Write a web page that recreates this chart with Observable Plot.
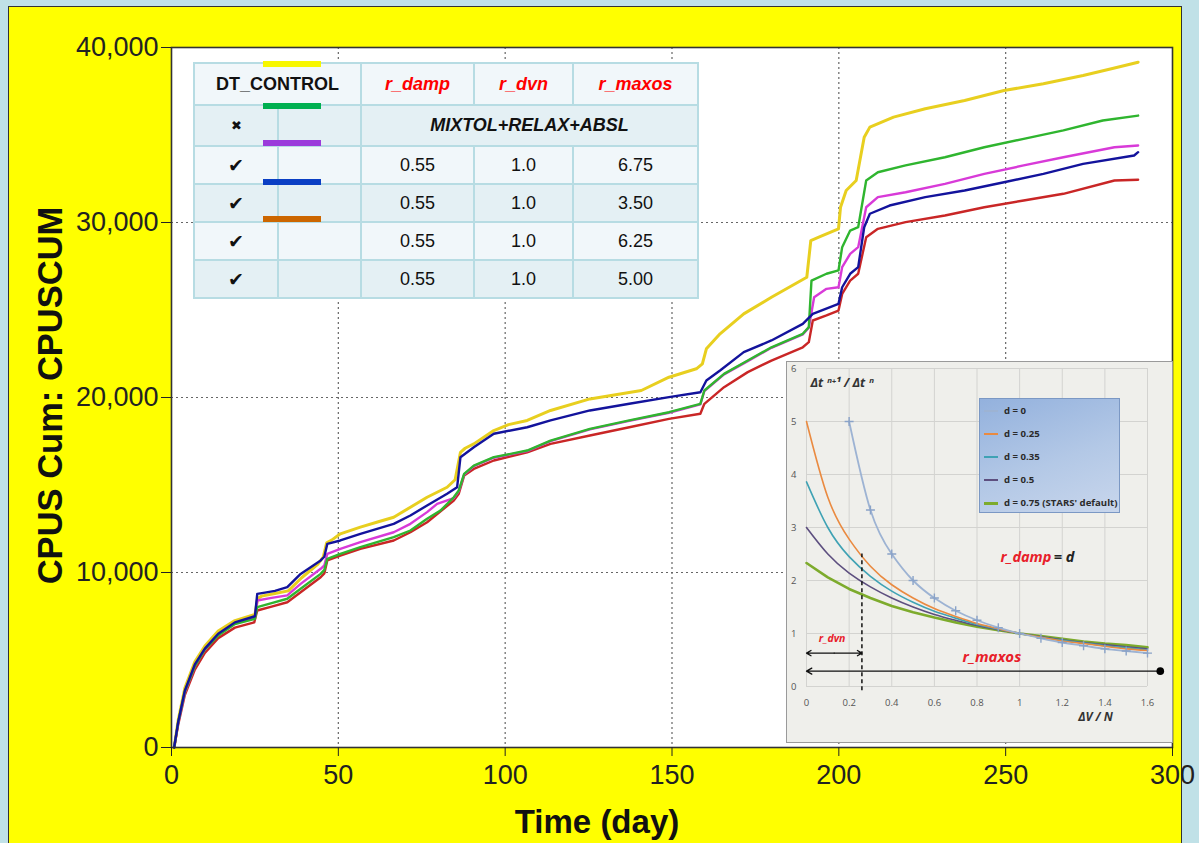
<!DOCTYPE html>
<html><head><meta charset="utf-8">
<script src="https://cdn.jsdelivr.net/npm/d3@7"></script>
<script src="https://cdn.jsdelivr.net/npm/@observablehq/plot@0.6"></script>
<style>
html,body{margin:0;padding:0}
body{width:1199px;height:843px;background:#c0e1e7;overflow:hidden;position:relative;font-family:"Liberation Sans",Arial,sans-serif}
#frame{position:absolute;left:8px;top:6px;width:1174px;height:850px;background:#ffff00;border:1.5px solid #333;box-sizing:border-box}
#main{position:absolute;left:0;top:0}
#tbl{position:absolute;left:193px;top:62px;width:504px;border-collapse:collapse;table-layout:fixed;font-size:18px;color:#111}
#tbl td{border:2.5px solid #b7dce3;text-align:center;vertical-align:middle;padding:0}
#tbl tr.light td{background:#f1f7fa}
#tbl tr.dark td{background:#e4f0f4}
#tbl td.hdr{font-weight:bold}
#tbl td.par{color:#ff0000;font-weight:bold;font-style:italic}
#tbl td.bi{font-weight:bold;font-style:italic}
.bar{position:absolute;height:6px}
#insetBox{position:absolute;left:786px;top:361px;border:1px solid #9a9a9a;background:#efefeb}
#ilegend{position:absolute;left:979px;top:398px;width:141px;height:115px;box-sizing:border-box;border:1px solid #7b98c4;background:linear-gradient(160deg,#93b1dd 0%,#b3c8e6 55%,#c8d6ec 100%);font-family:"Open Sans","Liberation Sans",sans-serif;font-size:9.6px;font-weight:bold;color:#2b2b2b}
#ilegend .it{position:absolute;left:4px;height:12px;line-height:12px;white-space:nowrap}
#ilegend .sw{display:inline-block;width:14px;height:2px;vertical-align:middle;margin-right:6px}
</style></head>
<body>
<div id="frame"></div>
<div id="main"></div>
<div id="insetBox"></div>
<div id="ilegend"></div>
<script>
// ---------- main chart data (CPU seconds cumulative vs time) ----------
const dayYellow = [0.8,2,4,7,10,14,19,25,25.8,27,31,35,39,44,45.5,46.5,48,50.6,56.6,62,66.6,71.6,76.6,82.6,85,86.6,88,90.6,96.6,101,106.6,113.6,125.4,140.8,149.1,157.3,159.1,160.3,164.4,171.5,179.8,190.4,191.6,194,199.9,200.5,202.2,205.2,207.6,209.3,216.4,225.9,237.7,249.5,261.3,273.2,282,289.7];
const cpuYellow = [0,1550,3400,4900,5800,6650,7250,7600,8500,8650,8800,8950,9700,10500,10900,11700,11850,12210,12590,12900,13160,13730,14300,14870,15300,16870,17100,17350,18110,18450,18690,19260,19920,20400,21160,21640,21920,22780,23640,24780,25730,26870,28970,29160,29640,30870,31830,32400,34870,35450,36020,36500,36970,37540,37930,38400,38800,39160];

const dayBlue = [0.8,2,4,7,10,14,19,25,25.7,28,31,34.7,38.7,44.7,45.8,46.7,50.6,56.6,66.6,71.6,76.6,82.6,85.6,86.6,90.6,96.6,106.6,113.6,125.4,137.2,149.1,158.5,160.3,164.4,171.5,179.8,189.2,192.2,199.9,201,203.4,205.8,207.6,209.3,215.2,225.9,237.7,249.5,261.3,273.2,288.5,289.7];
const cpuBlue = [0,1450,3250,4750,5650,6500,7150,7500,8780,8850,8950,9160,9920,10690,10900,11640,11830,12210,12780,13260,13830,14500,14870,16590,17160,17930,18300,18690,19260,19640,20020,20300,20970,21540,22590,23260,24210,24780,25350,26300,27070,27450,29730,30500,30970,31450,31830,32300,32780,33350,33830,34020];

const dayMagenta = [0.8,2,4,7,10,14,19,25,25.7,30,34.7,38.7,44.7,45.8,46.7,50.6,56.6,66.6,71.6,76.6,79.6,84.6,86.1,87.7,90.6,96.6,106.6,113.6,125.4,137.2,149.1,158.5,159.7,165.6,172.7,179.8,189.2,191,192.6,196.3,199.9,201,203.4,205.8,208.2,211.7,220,231.8,243.6,255.4,267.3,282.6,289.7];
const cpuMagenta = [0,1400,3150,4650,5600,6450,7100,7400,8400,8550,8690,9350,10210,10400,11070,11350,11730,12300,12780,13450,13920,14250,14650,15600,16080,16560,16940,17510,18180,18660,19130,19610,20370,21320,22080,22840,23610,23990,25730,26210,26300,27450,28210,28590,30870,31450,31730,32210,32780,33260,33730,34300,34400];

const dayGreen = [0.8,2,4,7,10,14,19,25,25.7,30,34.7,38.7,44.7,45.8,46.7,50.6,56.6,66.6,71.6,76.6,80.6,84.6,86.1,87.7,90.6,96.6,106.6,113.6,125.4,137.2,149.1,158.5,159.7,165.6,172.7,179.8,189.2,191,191.8,196.3,199.9,201,203.4,205.8,208.2,211.7,220,231.8,243.6,255.4,267.3,279.1,289.7];
const cpuGreen = [0,1450,3200,4650,5600,6400,7050,7350,8020,8250,8500,9070,9920,10150,10780,11070,11450,12020,12400,13070,13540,14300,14690,15640,16110,16590,16970,17540,18210,18690,19160,19640,20400,21350,22110,22870,23640,24020,26680,27070,27260,28590,29540,29730,32400,32870,33260,33730,34300,34780,35260,35830,36110];

const dayRed = [0.8,2,4,7,10,14,19,24.8,25.7,30,34.7,38.7,44.7,45.8,46.7,50.6,56.6,66.6,71.6,76.6,84.6,86.1,87.7,90.6,96.6,106.6,113.6,125.4,137.2,149.1,158.5,159.7,165.6,172.7,179.8,189.2,191,192.2,196.3,199.9,201,203.4,205.8,208.2,211.7,220,231.8,243.6,255.4,267.3,282.6,289.7];
const cpuRed = [0,1300,3000,4450,5400,6250,6850,7150,7830,8050,8300,8870,9730,9950,10690,10970,11350,11830,12300,12870,14110,14500,15540,15920,16400,16870,17350,17830,18300,18780,19070,19640,20590,21450,22110,22870,23160,24400,24690,24970,25920,26680,27070,29160,29640,30020,30400,30870,31260,31640,32400,32440];

const xTicks = [0,50,100,150,200,250,300];
const yTicks = [0,10000,20000,30000,40000];
const xLabel = "Time (day)";
const yLabel = "CPUS Cum: CPUSCUM";

// ---------- table data ----------
const tableHeader = ["DT_CONTROL","r_damp","r_dvn","r_maxos"];
const baseRowFlag = "✖";
const baseRowText = "MIXTOL+RELAX+ABSL";
const rowFlags = ["✔","✔","✔","✔"];
const rDamp = ["0.55","0.55","0.55","0.55"];
const rDvn = ["1.0","1.0","1.0","1.0"];
const rMaxos = ["6.75","3.50","6.25","5.00"];
const legendBarColors = ["#f7f700","#00b050","#9b3bdb","#0a3fc4","#cc6600"];

// ---------- inset data (time-step ratio vs dV/N) ----------
const insetX = [0,0.1,0.2,0.3,0.4,0.5,0.6,0.7,0.8,0.9,1.0,1.1,1.2,1.3,1.4,1.5,1.6];
const ratioD025 = [5.0,3.57,2.78,2.27,1.92,1.67,1.47,1.32,1.19,1.09,1.0,0.93,0.86,0.81,0.76,0.71,0.68];
const ratioD035 = [3.86,3.0,2.45,2.08,1.8,1.59,1.42,1.29,1.17,1.08,1.0,0.93,0.87,0.82,0.77,0.73,0.69];
const ratioD05 = [3.0,2.5,2.14,1.88,1.67,1.5,1.36,1.25,1.15,1.07,1.0,0.94,0.88,0.83,0.79,0.75,0.71];
const ratioD075 = [2.33,2.06,1.84,1.67,1.52,1.4,1.3,1.21,1.13,1.06,1.0,0.95,0.9,0.85,0.81,0.78,0.74];
const insetXd0 = [0.2,0.3,0.4,0.5,0.6,0.7,0.8,0.9,1.0,1.1,1.2,1.3,1.4,1.5,1.6];
const ratioD0 = [5.0,3.33,2.5,2.0,1.67,1.43,1.25,1.11,1.0,0.91,0.83,0.77,0.71,0.67,0.63];
const insetXTicks = [0,0.2,0.4,0.6,0.8,1,1.2,1.4,1.6];
const insetYTicks = [0,1,2,3,4,5,6];
const insetLegend = ["d = 0","d = 0.25","d = 0.35","d = 0.5","d = 0.75 (STARS' default)"];
const rDvnValue = 0.26;
const rMaxosEnd = 1.66;

// ---------- build main chart ----------
const toRows = (days, vals) => days.map((d, i) => ({day: d, value: vals[i]}));
const seriesDefs = [
  {rows: toRows(dayYellow, cpuYellow), color: "#e8cf1f", w: 3},
  {rows: toRows(dayRed, cpuRed), color: "#c92626", w: 2.4},
  {rows: toRows(dayMagenta, cpuMagenta), color: "#d83ad8", w: 2.4},
  {rows: toRows(dayGreen, cpuGreen), color: "#2fb52f", w: 2.4},
  {rows: toRows(dayBlue, cpuBlue), color: "#13139c", w: 2.4}
];

const mainPlot = Plot.plot({
  width: 1199, height: 843,
  marginLeft: 171, marginRight: 27, marginTop: 47, marginBottom: 96,
  style: {background: "transparent", fontFamily: "'Liberation Sans', Arial, sans-serif", fontSize: "27px", color: "#222", overflow: "visible"},
  x: {domain: [0, 300]},
  y: {domain: [0, 40000]},
  marks: [
    Plot.frame({fill: "white", stroke: null}),
    Plot.gridX(xTicks.slice(1, -1), {stroke: "#666", strokeOpacity: 1, strokeDasharray: "2,3", strokeWidth: 1.2}),
    Plot.gridY(yTicks.slice(1, -1), {stroke: "#666", strokeOpacity: 1, strokeDasharray: "2,3", strokeWidth: 1.2}),
    ...seriesDefs.map(s => Plot.line(s.rows, {x: "day", y: "value", stroke: s.color, strokeWidth: s.w, curve: "linear"})),
    Plot.frame({stroke: "#333", strokeWidth: 1.6}),
    Plot.axisX(xTicks, {tickSize: 9, tickPadding: 8, label: null, tickFormat: d => String(d)}),
    Plot.axisY(yTicks, {tickSize: 10, tickPadding: 3, label: null, tickFormat: d3.format(",")}),
    Plot.text([xLabel], {text: d => d, frameAnchor: "bottom", dx: -75, dy: 75, lineAnchor: "middle", textAnchor: "middle", fontSize: 33, fontWeight: "bold", fill: "#111"}),
    Plot.text([yLabel], {text: d => d, frameAnchor: "left", dx: -121, dy: -2, rotate: -90, lineAnchor: "middle", textAnchor: "middle", fontSize: 34.5, fontWeight: "bold", fill: "#111"})
  ]
});
document.getElementById("main").appendChild(mainPlot);

// ---------- table ----------
const tbl = document.createElement("table");
tbl.id = "tbl";
let h = `<colgroup><col style="width:84px"><col style="width:83px"><col style="width:113px"><col style="width:99px"><col style="width:125px"></colgroup>`;
h += `<tr class="light" style="height:42px"><td colspan="2" class="hdr">${tableHeader[0]}</td>` +
     tableHeader.slice(1).map(t => `<td class="par">${t}</td>`).join("") + `</tr>`;
h += `<tr class="dark" style="height:41px"><td style="font-size:13px">${baseRowFlag}</td><td></td><td colspan="3" class="bi">${baseRowText}</td></tr>`;
rowFlags.forEach((f, i) => {
  h += `<tr class="${i % 2 === 0 ? "light" : "dark"}" style="height:38px"><td style="font-size:19px;line-height:1">${f}</td><td></td><td>${rDamp[i]}</td><td>${rDvn[i]}</td><td>${rMaxos[i]}</td></tr>`;
});
tbl.innerHTML = h;
document.body.appendChild(tbl);
const barTops = [61, 103, 140, 179, 216];
legendBarColors.forEach((c, i) => {
  const b = document.createElement("div");
  b.className = "bar";
  b.style.cssText = `left:263px;width:58px;top:${barTops[i]}px;background:${c}`;
  document.body.appendChild(b);
});

// ---------- inset ----------
const insetRows = (xs, ys) => xs.map((x, i) => ({x, y: ys[i]}));
const insetColors = ["#9db3d3", "#ea8a40", "#3fa2b4", "#5d4f7f", "#7dab2c"];
const insetPlot = Plot.plot({
  width: 385, height: 380,
  marginLeft: 19, marginRight: 25, marginTop: 6, marginBottom: 56,
  style: {background: "transparent", fontFamily: "'Open Sans', 'Liberation Sans', sans-serif", fontSize: "9.5px", color: "#555", overflow: "visible"},
  x: {domain: [0, 1.6]},
  y: {domain: [0, 6]},
  marks: [
    Plot.gridX(insetXTicks, {stroke: "#d3d3d0", strokeOpacity: 1, strokeWidth: 1}),
    Plot.gridY(insetYTicks, {stroke: "#d3d3d0", strokeOpacity: 1, strokeWidth: 1}),
    Plot.axisX(insetXTicks, {tickSize: 0, tickPadding: 13, label: null, tickFormat: d => String(d)}),
    Plot.axisY(insetYTicks, {tickSize: 0, tickPadding: 10, label: null, tickFormat: d => String(d)}),
    Plot.line(insetRows(insetX, ratioD075), {x: "x", y: "y", stroke: insetColors[4], strokeWidth: 2.6}),
    Plot.line(insetRows(insetX, ratioD05), {x: "x", y: "y", stroke: insetColors[3], strokeWidth: 1.6, curve: "natural"}),
    Plot.line(insetRows(insetX, ratioD035), {x: "x", y: "y", stroke: insetColors[2], strokeWidth: 1.6, curve: "natural"}),
    Plot.line(insetRows(insetX, ratioD025), {x: "x", y: "y", stroke: insetColors[1], strokeWidth: 1.6, curve: "natural"}),
    Plot.line(insetRows(insetXd0, ratioD0), {x: "x", y: "y", stroke: insetColors[0], strokeWidth: 1.8, curve: "natural"}),
    Plot.dot(insetRows(insetXd0, ratioD0), {x: "x", y: "y", symbol: "plus", r: 3, stroke: "#8aa3c8", strokeWidth: 1.4}),
    Plot.ruleX([rDvnValue], {y1: -0.08, y2: 2.5, stroke: "#111", strokeWidth: 1.5, strokeDasharray: "4,3"}),
    Plot.arrow([0], {x1: rDvnValue / 2, x2: 0, y1: 0.63, y2: 0.63, stroke: "#111", strokeWidth: 1.3, headLength: 6}),
    Plot.arrow([0], {x1: rDvnValue / 2, x2: rDvnValue, y1: 0.63, y2: 0.63, stroke: "#111", strokeWidth: 1.3, headLength: 6}),
    Plot.arrow([0], {x1: rMaxosEnd, x2: 0, y1: 0.29, y2: 0.29, stroke: "#111", strokeWidth: 1.3, headLength: 7}),
    Plot.dot([0], {x: rMaxosEnd, y: 0.29, r: 3.8, fill: "#000"}),
    Plot.text(["r_dvn"], {text: d => d, x: 0.12, y: 0.91, fill: "#e8202a", fontSize: 10.5, fontWeight: "bold", fontStyle: "italic"}),
    Plot.text(["r_maxos"], {text: d => d, x: 0.87, y: 0.55, fill: "#e8202a", fontSize: 15, fontWeight: "bold", fontStyle: "italic"}),
    Plot.text(["r_damp"], {text: d => d, x: 1.149, y: 2.44, textAnchor: "end", fill: "#e8202a", fontSize: 14.5, fontWeight: "bold", fontStyle: "italic"}),
    Plot.text(["= d"], {text: d => d, x: 1.16, y: 2.44, textAnchor: "start", fill: "#222", fontSize: 14.5, fontWeight: "bold", fontStyle: "italic"}),
    Plot.text(["Δt ⁿ⁺¹ / Δt ⁿ"], {text: d => d, frameAnchor: "top-left", dx: 4, dy: 10, fill: "#333", fontSize: 12.5, fontWeight: "bold", fontStyle: "italic"}),
    Plot.text(["ΔV / N"], {text: d => d, frameAnchor: "bottom-right", dx: -52, dy: 34, textAnchor: "middle", fill: "#333", fontSize: 12, fontWeight: "bold", fontStyle: "italic"})
  ]
});
document.getElementById("insetBox").appendChild(insetPlot);

const lg = document.getElementById("ilegend");
insetLegend.forEach((t, i) => {
  const d = document.createElement("div");
  d.className = "it";
  d.style.top = (6 + i * 23) + "px";
  d.innerHTML = `<span class="sw" style="background:${insetColors[i]};${i === 4 ? "height:3px" : ""}"></span>${t}`;
  lg.appendChild(d);
});
</script>
</body></html>
